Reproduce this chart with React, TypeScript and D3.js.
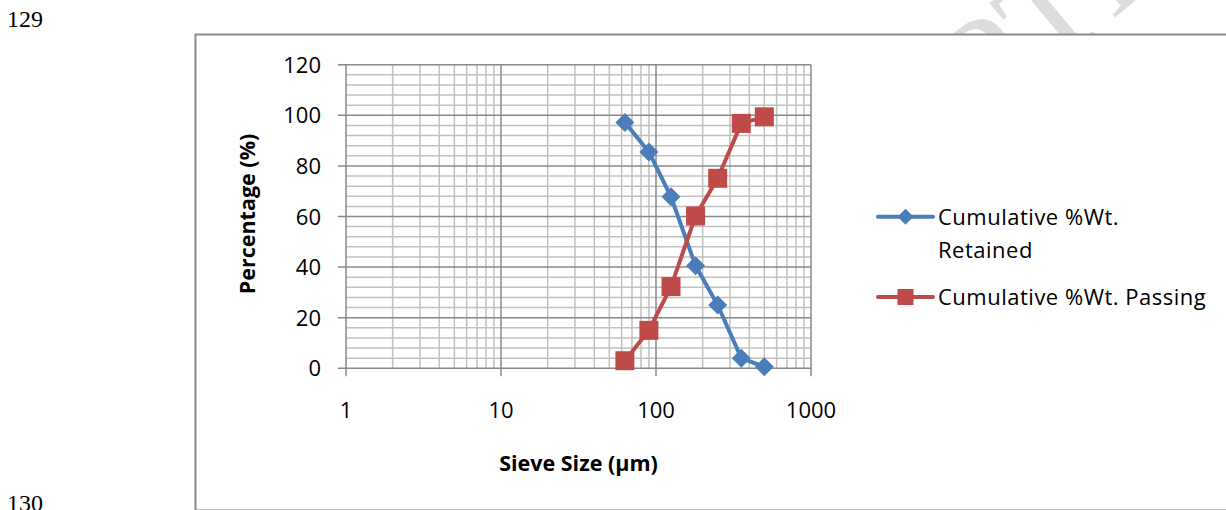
import React from 'react';
import * as d3 from 'd3';

// sieve analysis data
const sieveSizes = [63, 90, 125, 180, 250, 355, 500];
const retained = [97.2, 85.5, 67.8, 40.5, 25.0, 4.0, 0.6];
const passing = [3.0, 15.0, 32.3, 60.2, 75.1, 96.8, 99.4];

const yTicks = [0, 20, 40, 60, 80, 100, 120];
const xTicks = [1, 10, 100, 1000];
const seriesNames = ['Cumulative %Wt.', 'Retained', 'Cumulative %Wt. Passing'];

const BLUE = '#4a7ebb';
const RED = '#be4b48';
const FONT = "'Open Sans', 'Noto Sans', sans-serif";
const FS = 22;

const App: React.FC = () => {
  const width = 1226;
  const height = 510;

  // plot area
  const x = d3.scaleLog().domain([1, 1000]).range([346, 811]);
  const y = d3.scaleLinear().domain([0, 120]).range([368.3, 64.7]);

  const minorY = d3.range(0, 121, 4).filter(v => v % 20 !== 0);
  const minorX: number[] = [];
  [1, 10, 100].forEach(d => d3.range(2, 10).forEach(k => minorX.push(k * d)));

  const line = d3.line<[number, number]>()
    .x(d => x(d[0]))
    .y(d => y(d[1]));

  const retPts = sieveSizes.map((s, i) => [s, retained[i]] as [number, number]);
  const pasPts = sieveSizes.map((s, i) => [s, passing[i]] as [number, number]);

  const diamond = (cx: number, cy: number, r: number) =>
    `M${cx},${cy - r}L${cx + r},${cy}L${cx},${cy + r}L${cx - r},${cy}Z`;

  return (
    <svg width={width} height={height} style={{ position: 'absolute', left: 0, top: 0 }}>
      <rect x={0} y={0} width={width} height={height} fill="#fff" />

      {/* watermark, mostly hidden behind the chart frame */}
      <text
        transform="translate(1255, -100) rotate(-40)"
        textAnchor="end"
        fontFamily="'Liberation Serif', serif"
        fontSize={140}
        fill="#dcdcdc"
      >ACCEPTED</text>

      {/* page line numbers */}
      <text x={7} y={27} fontFamily="'Liberation Serif', serif" fontSize={24} fill="#000">129</text>
      <text x={7} y={511} fontFamily="'Liberation Serif', serif" fontSize={24} fill="#000">130</text>

      {/* chart frame */}
      <rect x={195.5} y={34.5} width={1100} height={476} fill="#fff" stroke="#8a8a8a" strokeWidth={2} />

      {/* gridlines */}
      {minorY.map(v => (
        <line key={'my' + v} x1={x(1)} x2={x(1000)} y1={y(v)} y2={y(v)} stroke="#c0c0c0" strokeWidth={1.5} />
      ))}
      {minorX.map(v => (
        <line key={'mx' + v} x1={x(v)} x2={x(v)} y1={y(0)} y2={y(120)} stroke="#c0c0c0" strokeWidth={1.5} />
      ))}
      {yTicks.map(v => (
        <line key={'gy' + v} x1={x(1) - 8} x2={x(1000)} y1={y(v)} y2={y(v)} stroke="#888" strokeWidth={1.5} />
      ))}
      {xTicks.map(v => (
        <line key={'gx' + v} x1={x(v)} x2={x(v)} y1={y(120)} y2={y(0) + 8} stroke="#888" strokeWidth={1.5} />
      ))}

      {/* tick labels */}
      {yTicks.map(v => (
        <text key={'ty' + v} x={321} y={y(v) + 8} textAnchor="end" fontFamily={FONT} fontSize={FS} fill="#000">{v}</text>
      ))}
      {xTicks.map(v => (
        <text key={'tx' + v} x={x(v)} y={418} textAnchor="middle" fontFamily={FONT} fontSize={FS} fill="#000">{v}</text>
      ))}

      {/* axis titles */}
      <text
        transform="translate(255, 214) rotate(-90)"
        textAnchor="middle"
        fontFamily={FONT}
        fontSize={21.5}
        fontWeight="bold"
        fill="#000"
      >Percentage (%)</text>
      <text x={578.5} y={471} textAnchor="middle" fontFamily={FONT} fontSize={21.5} fontWeight="bold" fill="#000">
        Sieve Size (µm)
      </text>

      {/* series */}
      <path d={line(retPts) || ''} fill="none" stroke={BLUE} strokeWidth={4} strokeLinejoin="round" />
      <path d={line(pasPts) || ''} fill="none" stroke={RED} strokeWidth={4} strokeLinejoin="round" />
      {retPts.map((p, i) => (
        <path key={'d' + i} d={diamond(x(p[0]), y(p[1]), 9.5)} fill={BLUE} />
      ))}
      {pasPts.map((p, i) => (
        <rect key={'s' + i} x={x(p[0]) - 9.5} y={y(p[1]) - 9.5} width={19} height={19} fill={RED} />
      ))}

      {/* legend */}
      <line x1={878} x2={933} y1={216.7} y2={216.7} stroke={BLUE} strokeWidth={4} strokeLinecap="round" />
      <path d={diamond(905.5, 216.7, 8)} fill={BLUE} />
      <text x={938} y={225} fontFamily={FONT} fontSize={FS} letterSpacing={0.5} fill="#000">{seriesNames[0]}</text>
      <text x={938} y={258} fontFamily={FONT} fontSize={FS} letterSpacing={0.5} fill="#000">{seriesNames[1]}</text>

      <line x1={878} x2={933} y1={297} y2={297} stroke={RED} strokeWidth={4} strokeLinecap="round" />
      <rect x={897.5} y={289} width={16} height={16} fill={RED} />
      <text x={938} y={305} fontFamily={FONT} fontSize={FS} letterSpacing={0.5} fill="#000">{seriesNames[2]}</text>
    </svg>
  );
};

export default App;
